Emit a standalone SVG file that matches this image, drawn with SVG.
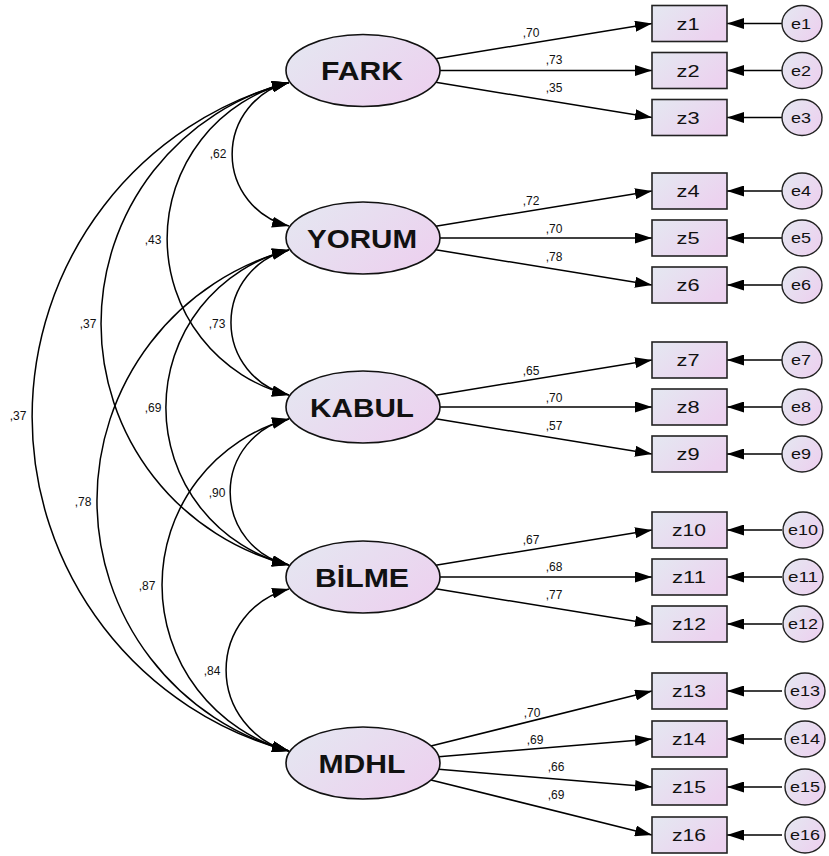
<svg xmlns="http://www.w3.org/2000/svg" width="829" height="856" viewBox="0 0 829 856">
<style>
.lat{fill:url(#g);stroke:#111;stroke-width:1.6}
.obs{fill:url(#g);stroke:#222;stroke-width:1.6}
.err{fill:url(#g);stroke:#222;stroke-width:1.4}
.ln{fill:none;stroke:#000;stroke-width:1.5}
.lt{font-family:"Liberation Sans",Arial,sans-serif;font-weight:bold;font-size:26px;fill:#111;text-anchor:middle}
.ot{font-family:"Liberation Sans",Arial,sans-serif;font-size:17px;fill:#111;text-anchor:middle}
.et{font-family:"Liberation Sans",Arial,sans-serif;font-size:14px;fill:#111;text-anchor:middle}
.cf{font-family:"Liberation Sans",Arial,sans-serif;font-size:12px;fill:#111;text-anchor:middle}
</style>
<defs>
<linearGradient id="g" x1="0" y1="0" x2="1" y2="0.6">
<stop offset="0" stop-color="#e4e8f1"/>
<stop offset="1" stop-color="#ecd2ef"/>
</linearGradient>
<marker id="ah" viewBox="0 0 17 11" refX="17" refY="5.5" markerWidth="17" markerHeight="11" markerUnits="userSpaceOnUse" orient="auto-start-reverse">
<path d="M0,0 L17,5.5 L0,11 z" fill="#000"/>
</marker>
</defs>

<g id="connectors">
<!-- covariances -->
<path class="ln" d="M289,82.5 A73.7,73.7 0 0 0 289,226" marker-start="url(#ah)" marker-end="url(#ah)"/>
<path class="ln" d="M289,82.5 A161.1,161.1 0 0 0 289,395" marker-start="url(#ah)" marker-end="url(#ah)"/>
<path class="ln" d="M289,82.5 A248.8,248.8 0 0 0 289,565" marker-start="url(#ah)" marker-end="url(#ah)"/>
<path class="ln" d="M289,82.5 A345.9,345.9 0 0 0 289,751" marker-start="url(#ah)" marker-end="url(#ah)"/>
<path class="ln" d="M289,250 A74.3,74.3 0 0 0 289,395" marker-start="url(#ah)" marker-end="url(#ah)"/>
<path class="ln" d="M289,250 A162.3,162.3 0 0 0 289,565" marker-start="url(#ah)" marker-end="url(#ah)"/>
<path class="ln" d="M289,250 A259.4,259.4 0 0 0 289,751" marker-start="url(#ah)" marker-end="url(#ah)"/>
<path class="ln" d="M289,419 A74.7,74.7 0 0 0 289,565" marker-start="url(#ah)" marker-end="url(#ah)"/>
<path class="ln" d="M289,419 A172,172 0 0 0 289,751" marker-start="url(#ah)" marker-end="url(#ah)"/>
<path class="ln" d="M289,589 A83.6,83.6 0 0 0 289,751" marker-start="url(#ah)" marker-end="url(#ah)"/>
<!-- loadings -->
<line class="ln" x1="435.7" y1="58.7" x2="652" y2="23.5" marker-end="url(#ah)"/>
<line class="ln" x1="440" y1="70.5" x2="652" y2="70.5" marker-end="url(#ah)"/>
<line class="ln" x1="435.7" y1="82.3" x2="652" y2="117.5" marker-end="url(#ah)"/>
<line class="ln" x1="435.7" y1="226.2" x2="652" y2="191" marker-end="url(#ah)"/>
<line class="ln" x1="440" y1="238" x2="652" y2="238" marker-end="url(#ah)"/>
<line class="ln" x1="435.7" y1="249.8" x2="652" y2="285" marker-end="url(#ah)"/>
<line class="ln" x1="435.7" y1="395.2" x2="652" y2="360" marker-end="url(#ah)"/>
<line class="ln" x1="440" y1="407" x2="652" y2="407" marker-end="url(#ah)"/>
<line class="ln" x1="435.7" y1="418.8" x2="652" y2="454" marker-end="url(#ah)"/>
<line class="ln" x1="435.7" y1="565.2" x2="652" y2="530" marker-end="url(#ah)"/>
<line class="ln" x1="440" y1="577" x2="652" y2="577" marker-end="url(#ah)"/>
<line class="ln" x1="435.7" y1="588.8" x2="652" y2="624" marker-end="url(#ah)"/>
<line class="ln" x1="430.9" y1="746.1" x2="652" y2="691" marker-end="url(#ah)"/>
<line class="ln" x1="438.8" y1="756.7" x2="652" y2="739" marker-end="url(#ah)"/>
<line class="ln" x1="438.8" y1="769.3" x2="652" y2="787" marker-end="url(#ah)"/>
<line class="ln" x1="430.9" y1="779.9" x2="652" y2="835" marker-end="url(#ah)"/>
<!-- errors -->
<line class="ln" x1="782" y1="23.5" x2="727" y2="23.5" marker-end="url(#ah)"/>
<line class="ln" x1="782" y1="70.5" x2="727" y2="70.5" marker-end="url(#ah)"/>
<line class="ln" x1="782" y1="117.5" x2="727" y2="117.5" marker-end="url(#ah)"/>
<line class="ln" x1="782" y1="191" x2="727" y2="191" marker-end="url(#ah)"/>
<line class="ln" x1="782" y1="238" x2="727" y2="238" marker-end="url(#ah)"/>
<line class="ln" x1="782" y1="285" x2="727" y2="285" marker-end="url(#ah)"/>
<line class="ln" x1="782" y1="360" x2="727" y2="360" marker-end="url(#ah)"/>
<line class="ln" x1="782" y1="407" x2="727" y2="407" marker-end="url(#ah)"/>
<line class="ln" x1="782" y1="454" x2="727" y2="454" marker-end="url(#ah)"/>
<line class="ln" x1="782" y1="530" x2="727" y2="530" marker-end="url(#ah)"/>
<line class="ln" x1="782" y1="577" x2="727" y2="577" marker-end="url(#ah)"/>
<line class="ln" x1="782" y1="624" x2="727" y2="624" marker-end="url(#ah)"/>
<line class="ln" x1="782" y1="691" x2="727" y2="691" marker-end="url(#ah)"/>
<line class="ln" x1="782" y1="739" x2="727" y2="739" marker-end="url(#ah)"/>
<line class="ln" x1="782" y1="787" x2="727" y2="787" marker-end="url(#ah)"/>
<line class="ln" x1="782" y1="835" x2="727" y2="835" marker-end="url(#ah)"/>
</g>

<g id="coef-labels">
<text class="cf" x="218" y="158">,62</text>
<text class="cf" x="153" y="244">,43</text>
<text class="cf" x="88" y="328">,37</text>
<text class="cf" x="18" y="420">,37</text>
<text class="cf" x="217" y="328">,73</text>
<text class="cf" x="153" y="412">,69</text>
<text class="cf" x="83" y="506">,78</text>
<text class="cf" x="217" y="497">,90</text>
<text class="cf" x="147" y="590">,87</text>
<text class="cf" x="212" y="675">,84</text>
<text class="cf" x="531" y="37">,70</text>
<text class="cf" x="554" y="64">,73</text>
<text class="cf" x="554" y="92">,35</text>
<text class="cf" x="531" y="205">,72</text>
<text class="cf" x="554" y="233">,70</text>
<text class="cf" x="554" y="261">,78</text>
<text class="cf" x="531" y="375">,65</text>
<text class="cf" x="554" y="402">,70</text>
<text class="cf" x="554" y="430">,57</text>
<text class="cf" x="531" y="544">,67</text>
<text class="cf" x="554" y="571">,68</text>
<text class="cf" x="554" y="599">,77</text>
<text class="cf" x="532" y="717">,70</text>
<text class="cf" x="535" y="744">,69</text>
<text class="cf" x="556" y="771">,66</text>
<text class="cf" x="556" y="799">,69</text>
</g>

<g id="FARK"><ellipse class="lat" cx="363" cy="70.5" rx="77" ry="36"/><text class="lt" x="362" y="80" textLength="82" lengthAdjust="spacingAndGlyphs">FARK</text></g>
<g id="YORUM"><ellipse class="lat" cx="363" cy="238" rx="77" ry="36"/><text class="lt" x="362" y="247.5" textLength="110" lengthAdjust="spacingAndGlyphs">YORUM</text></g>
<g id="KABUL"><ellipse class="lat" cx="363" cy="407" rx="77" ry="36"/><text class="lt" x="362" y="416.5" textLength="104" lengthAdjust="spacingAndGlyphs">KABUL</text></g>
<g id="BILME"><ellipse class="lat" cx="363" cy="577" rx="77" ry="36"/><text class="lt" x="362" y="586.5" textLength="94" lengthAdjust="spacingAndGlyphs">BİLME</text></g>
<g id="MDHL"><ellipse class="lat" cx="363" cy="763" rx="77" ry="36"/><text class="lt" x="362" y="772.5" textLength="87" lengthAdjust="spacingAndGlyphs">MDHL</text></g>

<g id="z1"><rect class="obs" x="652" y="5.5" width="75" height="36"/><text class="ot" x="688" y="29.5" textLength="23" lengthAdjust="spacingAndGlyphs">z1</text></g>
<g id="z2"><rect class="obs" x="652" y="52.5" width="75" height="36"/><text class="ot" x="688" y="76.5" textLength="23" lengthAdjust="spacingAndGlyphs">z2</text></g>
<g id="z3"><rect class="obs" x="652" y="99.5" width="75" height="36"/><text class="ot" x="688" y="123.5" textLength="23" lengthAdjust="spacingAndGlyphs">z3</text></g>
<g id="z4"><rect class="obs" x="652" y="173" width="75" height="36"/><text class="ot" x="688" y="197" textLength="23" lengthAdjust="spacingAndGlyphs">z4</text></g>
<g id="z5"><rect class="obs" x="652" y="220" width="75" height="36"/><text class="ot" x="688" y="244" textLength="23" lengthAdjust="spacingAndGlyphs">z5</text></g>
<g id="z6"><rect class="obs" x="652" y="267" width="75" height="36"/><text class="ot" x="688" y="291" textLength="23" lengthAdjust="spacingAndGlyphs">z6</text></g>
<g id="z7"><rect class="obs" x="652" y="342" width="75" height="36"/><text class="ot" x="688" y="366" textLength="23" lengthAdjust="spacingAndGlyphs">z7</text></g>
<g id="z8"><rect class="obs" x="652" y="389" width="75" height="36"/><text class="ot" x="688" y="413" textLength="23" lengthAdjust="spacingAndGlyphs">z8</text></g>
<g id="z9"><rect class="obs" x="652" y="436" width="75" height="36"/><text class="ot" x="688" y="460" textLength="23" lengthAdjust="spacingAndGlyphs">z9</text></g>
<g id="z10"><rect class="obs" x="652" y="512" width="75" height="36"/><text class="ot" x="689" y="536" textLength="34" lengthAdjust="spacingAndGlyphs">z10</text></g>
<g id="z11"><rect class="obs" x="652" y="559" width="75" height="36"/><text class="ot" x="689" y="583" textLength="34" lengthAdjust="spacingAndGlyphs">z11</text></g>
<g id="z12"><rect class="obs" x="652" y="606" width="75" height="36"/><text class="ot" x="689" y="630" textLength="34" lengthAdjust="spacingAndGlyphs">z12</text></g>
<g id="z13"><rect class="obs" x="652" y="673" width="75" height="36"/><text class="ot" x="689" y="697" textLength="34" lengthAdjust="spacingAndGlyphs">z13</text></g>
<g id="z14"><rect class="obs" x="652" y="721" width="75" height="36"/><text class="ot" x="689" y="745" textLength="34" lengthAdjust="spacingAndGlyphs">z14</text></g>
<g id="z15"><rect class="obs" x="652" y="769" width="75" height="36"/><text class="ot" x="689" y="793" textLength="34" lengthAdjust="spacingAndGlyphs">z15</text></g>
<g id="z16"><rect class="obs" x="652" y="817" width="75" height="36"/><text class="ot" x="689" y="841" textLength="34" lengthAdjust="spacingAndGlyphs">z16</text></g>

<g id="e1"><ellipse class="err" cx="802" cy="23.5" rx="20" ry="18"/><text class="et" x="801" y="28.5" textLength="20" lengthAdjust="spacingAndGlyphs">e1</text></g>
<g id="e2"><ellipse class="err" cx="802" cy="70.5" rx="20" ry="18"/><text class="et" x="801" y="75.5" textLength="20" lengthAdjust="spacingAndGlyphs">e2</text></g>
<g id="e3"><ellipse class="err" cx="802" cy="117.5" rx="20" ry="18"/><text class="et" x="801" y="122.5" textLength="20" lengthAdjust="spacingAndGlyphs">e3</text></g>
<g id="e4"><ellipse class="err" cx="802" cy="191" rx="20" ry="18"/><text class="et" x="801" y="196" textLength="20" lengthAdjust="spacingAndGlyphs">e4</text></g>
<g id="e5"><ellipse class="err" cx="802" cy="238" rx="20" ry="18"/><text class="et" x="801" y="243" textLength="20" lengthAdjust="spacingAndGlyphs">e5</text></g>
<g id="e6"><ellipse class="err" cx="802" cy="285" rx="20" ry="18"/><text class="et" x="801" y="290" textLength="20" lengthAdjust="spacingAndGlyphs">e6</text></g>
<g id="e7"><ellipse class="err" cx="802" cy="360" rx="20" ry="18"/><text class="et" x="801" y="365" textLength="20" lengthAdjust="spacingAndGlyphs">e7</text></g>
<g id="e8"><ellipse class="err" cx="802" cy="407" rx="20" ry="18"/><text class="et" x="801" y="412" textLength="20" lengthAdjust="spacingAndGlyphs">e8</text></g>
<g id="e9"><ellipse class="err" cx="802" cy="454" rx="20" ry="18"/><text class="et" x="801" y="459" textLength="20" lengthAdjust="spacingAndGlyphs">e9</text></g>
<g id="e10"><ellipse class="err" cx="803" cy="530" rx="20" ry="18"/><text class="et" x="803" y="535" textLength="30" lengthAdjust="spacingAndGlyphs">e10</text></g>
<g id="e11"><ellipse class="err" cx="803" cy="577" rx="20" ry="18"/><text class="et" x="803" y="582" textLength="30" lengthAdjust="spacingAndGlyphs">e11</text></g>
<g id="e12"><ellipse class="err" cx="803" cy="624" rx="20" ry="18"/><text class="et" x="803" y="629" textLength="30" lengthAdjust="spacingAndGlyphs">e12</text></g>
<g id="e13"><ellipse class="err" cx="805" cy="691" rx="20" ry="18"/><text class="et" x="805" y="696" textLength="30" lengthAdjust="spacingAndGlyphs">e13</text></g>
<g id="e14"><ellipse class="err" cx="805" cy="739" rx="20" ry="18"/><text class="et" x="805" y="744" textLength="30" lengthAdjust="spacingAndGlyphs">e14</text></g>
<g id="e15"><ellipse class="err" cx="805" cy="787" rx="20" ry="18"/><text class="et" x="805" y="792" textLength="30" lengthAdjust="spacingAndGlyphs">e15</text></g>
<g id="e16"><ellipse class="err" cx="805" cy="835" rx="20" ry="18"/><text class="et" x="805" y="840" textLength="30" lengthAdjust="spacingAndGlyphs">e16</text></g>
</svg>
